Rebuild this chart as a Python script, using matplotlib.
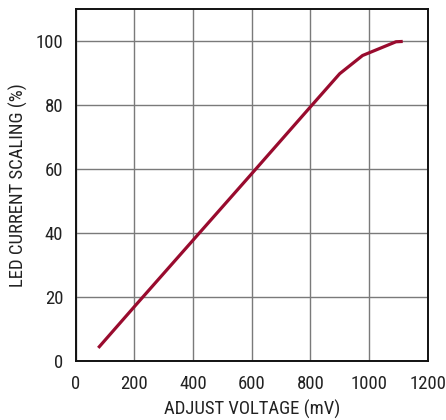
import matplotlib
matplotlib.use("Agg")
import matplotlib.pyplot as plt

voltage_mv = [77, 200, 400, 600, 800, 900, 978, 1092, 1115]
scaling_pct = [4.1, 17.0, 37.8, 58.6, 79.5, 89.9, 95.6, 99.9, 100.0]
x_ticks = [0, 200, 400, 600, 800, 1000, 1200]
y_ticks = [0, 20, 40, 60, 80, 100]

plt.rcParams['font.family'] = ['Roboto Condensed', 'DejaVu Sans']

fig = plt.figure(figsize=(4.46, 4.20), dpi=100)
ax = fig.add_axes([0.1697, 0.1405, 0.7892, 0.8369])
ax.plot(voltage_mv, scaling_pct, color='#990B2E', lw=2.3, solid_capstyle='butt', zorder=3)
ax.set_xlim(0, 1200)
ax.set_ylim(0, 110)
ax.set_xticks(x_ticks)
ax.set_yticks(y_ticks)
ax.grid(True, color='#7a7a7a', lw=1.0)
ax.tick_params(length=0, labelsize=13.5, colors='#222222')
ax.tick_params(axis='x', pad=10)
ax.tick_params(axis='y', pad=9)
for s in ax.spines.values():
    s.set_linewidth(1.4)
    s.set_color('#111111')
ax.set_xlabel('ADJUST VOLTAGE (mV)', fontsize=13.5, labelpad=5, color='#222222')
ax.set_ylabel('LED CURRENT SCALING (%)', fontsize=13.5, labelpad=5, color='#222222')
fig.savefig('out.png', dpi=100)
